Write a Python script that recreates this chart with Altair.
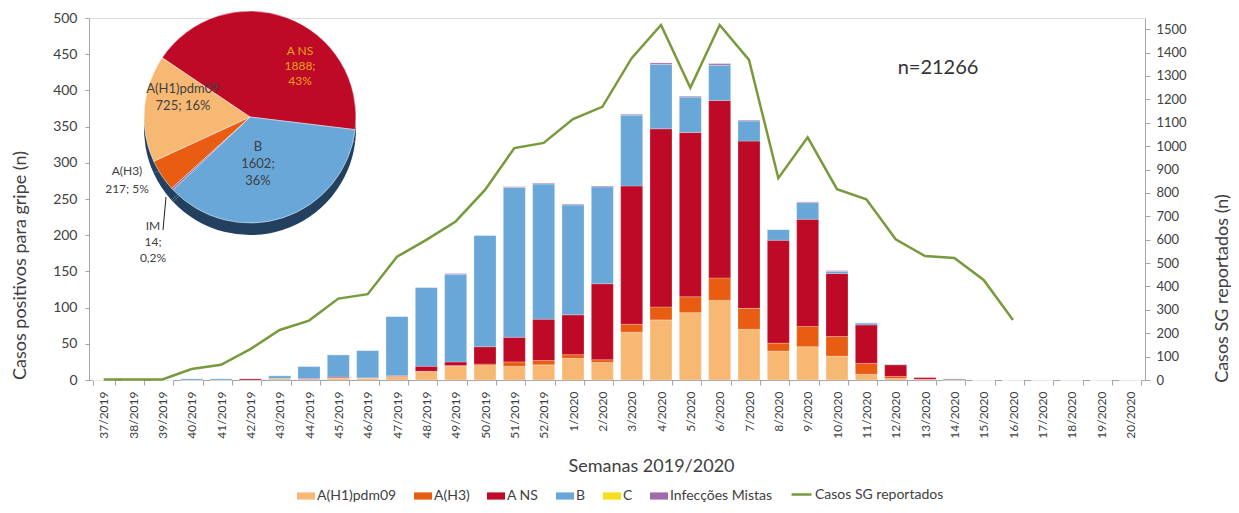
import math
import altair as alt
import pandas as pd

FONT = "Lato"
TXT = "#404040"

weeks = ["37/2019", "38/2019", "39/2019", "40/2019", "41/2019", "42/2019", "43/2019", "44/2019",
         "45/2019", "46/2019", "47/2019", "48/2019", "49/2019", "50/2019", "51/2019", "52/2019",
         "1/2020", "2/2020", "3/2020", "4/2020", "5/2020", "6/2020", "7/2020", "8/2020", "9/2020",
         "10/2020", "11/2020", "12/2020", "13/2020", "14/2020", "15/2020", "16/2020", "17/2020",
         "18/2020", "19/2020", "20/2020"]

h1 = [0, 0, 0, 0, 0, 0, 2, 1, 3, 3, 5, 12, 19, 20, 19, 21, 30, 24, 66, 83, 93, 110, 70, 40, 46, 33,
      8, 2, 1, 0, 0, 0, 0, 0, 0, 0]
h3 = [0, 0, 0, 0, 0, 0, 0, 0, 0, 0, 0, 0, 1, 2, 6, 6, 5, 4, 11, 18, 22, 31, 29, 11, 28, 27,
      15, 3, 0, 0, 0, 0, 0, 0, 0, 0]
ans = [0, 0, 0, 0, 0, 2, 0, 1, 1, 0, 1, 7, 5, 24, 34, 57, 55, 105, 191, 246, 227, 245, 231, 142, 148, 87,
       53, 16, 3, 1, 0, 0, 0, 0, 0, 0]
b = [0, 0, 0, 2, 2, 0, 4, 17, 31, 38, 82, 109, 121, 154, 207, 187, 152, 134, 98, 89, 49, 49, 28, 15, 23, 3,
     3, 1, 0, 1, 0, 0, 0, 0, 0, 0]
c = [0] * 36
im = [0, 0, 0, 0, 0, 0, 0, 0, 0, 0, 0, 0, 1, 0, 1, 1, 1, 1, 1, 2, 1, 2, 1, 0, 1, 1,
      0, 0, 0, 0, 0, 0, 0, 0, 0, 0]

sg = [2, 2, 2, 47, 65, 132, 214, 254, 348, 367, 527, 599, 678, 813, 992, 1014, 1116, 1168, 1376, 1518,
      1250, 1518, 1369, 863, 1038, 816, 773, 602, 530, 522, 428, 257, None, None, None, None]

series_names = ["A(H1)pdm09", "A(H3)", "A NS", "B", "C", "Infecções Mistas"]
series_colors = ["#F7B874", "#E85D12", "#BE0A27", "#68A7D8", "#F4E01A", "#A06BA8"]
series_vals = [h1, h3, ans, b, c, im]
line_name = "Casos SG reportados"

pie_names = ["A NS", "B", "Infecções Mistas", "A(H3)", "A(H1)pdm09"]
pie_short = ["A NS", "B", "IM", "A(H3)", "A(H1)pdm09"]
pie_values = [1888, 1602, 14, 217, 725]
pie_pct = ["43%", "36%", "0,2%", "5%", "16%"]
total_n = 21266

rows = []
for k, (name, vals) in enumerate(zip(series_names, series_vals)):
    for w, v in zip(weeks, vals):
        rows.append({"week": w, "serie": name, "n": v, "ord": k})
bars_df = pd.DataFrame(rows)
line_df = pd.DataFrame({"week": weeks, "sg": sg, "lbl": line_name}).dropna()
pie_df = pd.DataFrame({"name": pie_names, "value": pie_values, "ord": list(range(len(pie_names)))})

W, H = 1056, 362
LEG_Y = 469

fill_scale = alt.Scale(domain=series_names, range=series_colors)
fill_legend = alt.Legend(
    orient="none", direction="horizontal", legendX=208, legendY=LEG_Y, title=None,
    symbolType="M-1,-0.4H1V0.4H-1Z", symbolSize=324, symbolStrokeWidth=0,
    labelFont=FONT, labelFontSize=14, labelColor=TXT, columnPadding=17, labelOffset=2, padding=0,
)

x_enc = alt.X(
    "week:N", sort=weeks,
    scale=alt.Scale(domain=weeks, paddingInner=0.25, paddingOuter=0.125),
    axis=alt.Axis(
        title="Semanas 2019/2020", labelAngle=270, labelFont=FONT, labelFontSize=12, labelColor=TXT,
        labelPadding=6, tickBand="extent", tickSize=5, tickColor="#A6A6A6", domainColor="#A6A6A6",
        titleFont=FONT, titleFontSize=18, titleFontWeight="normal", titleColor=TXT,
        titleX=562, titleY=86, titleBaseline="middle", grid=False,
    ),
)

bars = alt.Chart(bars_df).mark_bar(stroke="white", strokeWidth=0.4, strokeOpacity=0.6).encode(
    x=x_enc,
    y=alt.Y(
        "n:Q", stack="zero", scale=alt.Scale(domain=[0, 500], nice=False),
        axis=alt.Axis(
            values=list(range(0, 501, 50)), title="Casos positivos para gripe (n)",
            labelFont=FONT, labelFontSize=14, labelColor=TXT, tickSize=4, labelPadding=8,
            tickColor="#A6A6A6", domainColor="#A6A6A6", grid=False,
            titleFont=FONT, titleFontSize=18, titleFontWeight="normal", titleColor=TXT,
            titleAngle=270, titleX=-69, titleY=247, titleAlign="center", titleBaseline="middle",
        ),
    ),
    fill=alt.Fill("serie:N", scale=fill_scale, legend=fill_legend),
    order=alt.Order("ord:Q", sort="ascending"),
)

line = alt.Chart(line_df).mark_line(strokeWidth=2.5).encode(
    x=alt.X("week:N", sort=weeks),
    y=alt.Y(
        "sg:Q", scale=alt.Scale(domain=[0, 1548], nice=False),
        axis=alt.Axis(
            orient="right", values=list(range(0, 1501, 100)), format="d",
            title="Casos SG reportados  (n)",
            labelFont=FONT, labelFontSize=13, labelColor=TXT, tickSize=5, labelPadding=6,
            tickColor="#A6A6A6", domainColor="#A6A6A6", grid=False,
            titleFont=FONT, titleFontSize=18, titleFontWeight="normal", titleColor=TXT,
            titleAngle=270, titleX=77, titleY=270, titleAlign="center", titleBaseline="middle",
        ),
    ),
    stroke=alt.Stroke(
        "lbl:N", scale=alt.Scale(domain=[line_name], range=["#789A3C"]),
        legend=alt.Legend(
            orient="none", direction="horizontal", legendX=701, legendY=LEG_Y - 4, title=None,
            symbolType="stroke", symbolSize=400, symbolStrokeWidth=2.5, padding=0,
            labelFont=FONT, labelFontSize=14, labelColor=TXT, labelOffset=2,
        ),
    ),
)

a0 = math.radians(304)
theta_enc = alt.Theta("value:Q", stack=True, scale=alt.Scale(range=[a0, a0 + 2 * math.pi]))
PCX, PCY, PR = 161, 99, 106

pie_shadow = alt.Chart(pie_df).mark_arc(outerRadius=PR, fill="#23415F").encode(
    theta=theta_enc, order=alt.Order("ord:Q"), x=alt.value(PCX), y=alt.value(PCY + 12),
)
pie = alt.Chart(pie_df).mark_arc(outerRadius=PR, stroke="white", strokeWidth=0.5).encode(
    theta=theta_enc, order=alt.Order("ord:Q"),
    fill=alt.Fill("name:N", scale=fill_scale, legend=fill_legend),
    x=alt.value(PCX), y=alt.value(PCY),
)


def note(text, x, y, color=TXT, size=13, line_h=16):
    return alt.Chart(pd.DataFrame({"t": [text]})).mark_text(
        lineBreak="\n", font=FONT, fontSize=size, color=color, align="center", baseline="top",
        lineHeight=line_h,
    ).encode(text="t:N", x=alt.value(x), y=alt.value(y))


lab = {n: (s, v, p) for n, s, v, p in zip(pie_names, pie_short, pie_values, pie_pct)}
s, v, p = lab["A NS"]
t_ans = note(f"{s}\n{v};\n{p}", 211, 28, color="#E8A317", size=12, line_h=15)
s, v, p = lab["B"]
t_b = note(f"{s}\n{v};\n{p}", 169, 123, line_h=17)
s, v, p = lab["A(H1)pdm09"]
t_h1 = note(f"{s}\n{v}; {p}", 94, 65, line_h=17)
s, v, p = lab["A(H3)"]
t_h3 = note(f"{s}\n{v}; {p}", 38, 148, size=12, line_h=18)
s, v, p = lab["Infecções Mistas"]
t_im = note(f"{s}\n{v};\n{p}", 64, 203, size=12, line_h=16)
leader = alt.Chart(pd.DataFrame({"k": [0]})).mark_rule(color="#202020", strokeWidth=1).encode(
    x=alt.value(77), y=alt.value(179), x2=alt.value(74), y2=alt.value(212)
)
t_n = note(f"n={total_n}", 849, 40, color="#333333", size=20)

chart = alt.layer(
    bars, line, pie_shadow, pie, leader, t_ans, t_b, t_h1, t_h3, t_im, t_n
).resolve_scale(y="independent").properties(
    width=W, height=H,
    autosize=alt.AutoSizeParams(type="none"),
    padding={"left": 81, "top": 10, "right": 86, "bottom": 125},
).configure_view(strokeWidth=0).configure(font=FONT)

chart.save("out.html", embed_options={"renderer": "svg", "actions": False})
